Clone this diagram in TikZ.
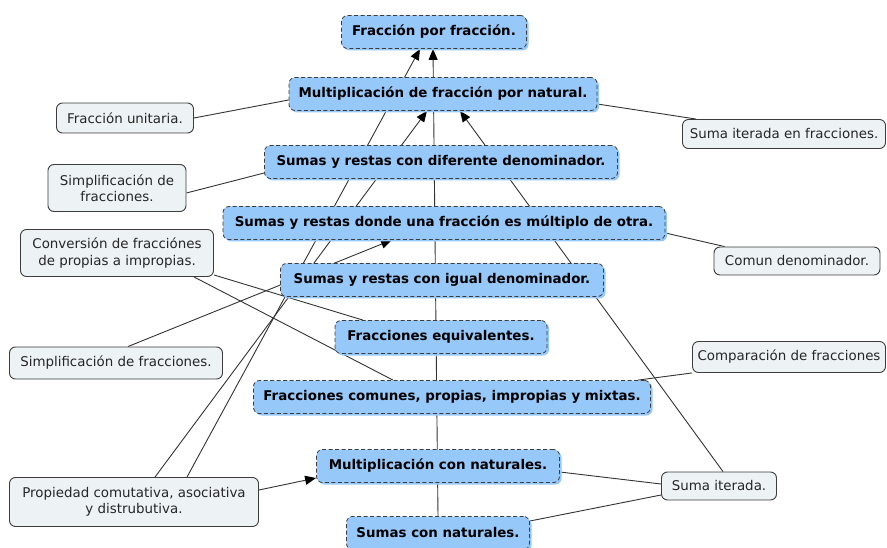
\documentclass[tikz,border=0pt]{standalone}
\usepackage{fontspec}
\setmainfont{DejaVu Sans}
\usetikzlibrary{arrows.meta,backgrounds,shadows}
\definecolor{cmapblue}{RGB}{150,200,250}
\definecolor{cmapgrey}{RGB}{237,242,244}
\definecolor{cmapline}{RGB}{60,60,60}
\begin{document}
\begin{tikzpicture}[x=1pt,y=-1pt,
  concept/.style={fill=cmapblue,draw=cmapline,dash pattern=on 4pt off 2.5pt,line width=0.8pt,rounded corners=6pt,
    minimum height=33pt,inner sep=0pt,font=\fontsize{13.4}{15}\selectfont\bfseries,
    drop shadow={opacity=1,fill=cmapblue,shadow xshift=2pt,shadow yshift=-2pt}},
  detail/.style={fill=cmapgrey,draw=cmapline,line width=0.9pt,rounded corners=6pt,inner sep=0pt,
    align=center,font=\fontsize{13.4}{16.5}\selectfont,text=black!85},
  link/.style={draw=black!80,line width=0.9pt},
  linkarrow/.style={link,-{Triangle[length=11pt,width=9pt,color=black]}}]
\useasboundingbox (0,0) rectangle (887,548);
% main column
\node[concept,minimum width=185pt](FF) at (434,32){Fracción por fracción.};
\node[concept,minimum width=308pt](MFN) at (443,94){Multiplicación de fracción por natural.};
\node[concept,minimum width=353pt](SRD) at (441,162){Sumas y restas con diferente denominador.};
\node[concept,minimum width=442pt](SRM) at (444,223){Sumas y restas donde una fracción es múltiplo de otra.};
\node[concept,minimum width=323pt](SRI) at (442,280){Sumas y restas con igual denominador.};
\node[concept,minimum width=212pt](FE) at (441,337){Fracciones equivalentes.};
\node[concept,minimum width=397pt](FC) at (452,397){Fracciones comunes, propias, impropias y mixtas.};
\node[concept,minimum width=243pt](MCN) at (438,466){Multiplicación con naturales.};
\node[concept,minimum width=183pt](SCN) at (438,533){Sumas con naturales.};
% side notes
\node[detail,minimum width=137pt,minimum height=30pt](FU) at (125,118){Fracción unitaria.};
\node[detail,minimum width=138pt,minimum height=47pt](SimpA) at (117,188){Simplificación de\\fracciones.};
\node[detail,minimum width=193pt,minimum height=47pt](Conv) at (117,253){Conversión de fracciónes\\de propias a impropias.};
\node[detail,minimum width=213pt,minimum height=32pt](SimpB) at (116,363){Simplificación de fracciones.};
\node[detail,minimum width=249pt,minimum height=49pt](Prop) at (134,502){Propiedad comutativa, asociativa\\y distrubutiva.};
\node[detail,minimum width=203pt,minimum height=29pt](SIF) at (784,134){Suma iterada en fracciones.};
\node[detail,minimum width=166pt,minimum height=28pt](CD) at (797,261){Comun denominador.};
\node[detail,minimum width=193pt,minimum height=31pt](Comp) at (789,357){Comparación de fracciones};
\node[detail,minimum width=115pt,minimum height=28pt](SI) at (719,486){Suma iterada.};
% connectors behind the boxes
\begin{pgfonlayer}{background}
\draw[linkarrow] (SCN.north) -- ([xshift=-1pt]FF.south);
\draw[link] (FU.east) -- ([yshift=-6pt]MFN.west);
\draw[link] ([yshift=-10pt]MFN.east) -- ([xshift=14pt]SIF.north west);
\draw[link] ([yshift=-5pt]SimpA.east) -- ([yshift=-11pt]SRD.west);
\draw[link] ([yshift=-10pt]SRM.east) -- ([xshift=11pt]CD.north west);
\draw[link] ([xshift=-20pt]Conv.south east) -- ([xshift=-59pt]FC.north);
\draw[link] ([yshift=2pt]Conv.south east) -- ([xshift=-78pt]FE.north);
\draw[linkarrow] ([xshift=12pt]SimpB.north) -- ([xshift=-52pt]SRM.south);
\draw[linkarrow] ([xshift=53pt]Prop.north) -- ([xshift=-14pt]FF.south);
\draw[linkarrow] ([xshift=21pt]Prop.north) -- ([xshift=-16pt]MFN.south);
\draw[linkarrow] ([yshift=12pt]Prop.east) -- ([yshift=-12pt]MCN.west);
\draw[linkarrow] ([xshift=4pt]SI.north) -- ([xshift=17pt]MFN.south);
\draw[link] ([yshift=2pt]SI.west) -- ([yshift=-6pt]MCN.east);
\draw[link] ([yshift=-9pt]SI.west) -- ([yshift=12pt]SCN.east);
\draw[link] (Comp.south west) -- ([xshift=-13pt]FC.north east);
\end{pgfonlayer}
\end{tikzpicture}
\end{document}
